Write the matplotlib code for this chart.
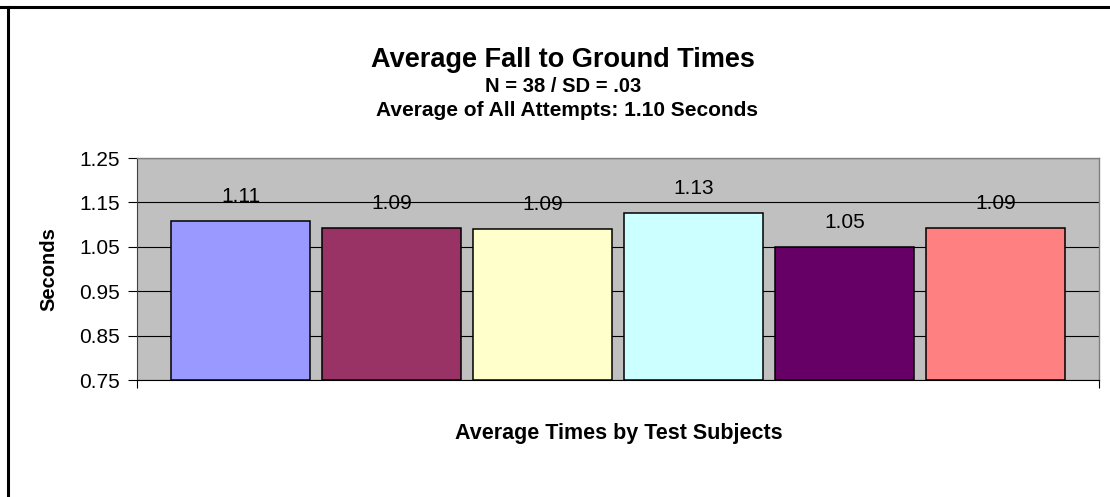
import matplotlib
matplotlib.use("Agg")
import matplotlib.pyplot as plt
from matplotlib.lines import Line2D

plt.rcParams['font.family'] = ['Liberation Sans', 'DejaVu Sans']

# data
subjects = ['S1', 'S2', 'S3', 'S4', 'S5', 'S6']
times = [1.109, 1.092, 1.091, 1.126, 1.050, 1.092]
labels = ['1.11', '1.09', '1.09', '1.13', '1.05', '1.09']
colors = ['#9999FF', '#993366', '#FFFFCC', '#CCFFFF', '#660066', '#FF8080']
yticks = [0.75, 0.85, 0.95, 1.05, 1.15, 1.25]

fig = plt.figure(figsize=(11.1, 4.97), dpi=100)
ax = fig.add_axes([137/1110, 1 - 380/497, (1099 - 137)/1110, (380 - 158)/497])
ax.set_facecolor('#C0C0C0')

x = list(range(len(subjects)))
ax.bar(x, [t - 0.75 for t in times], bottom=0.75, width=0.917,
       color=colors, edgecolor='black', linewidth=1.1, zorder=3)

for xi, t, lab in zip(x, times, labels):
    ax.annotate(lab, (xi, t), xytext=(0, 17.5), textcoords='offset points',
                ha='center', va='center', fontsize=15, zorder=4)

ax.set_xlim(-0.686, 5.686)
ax.set_ylim(0.75, 1.25)
ax.set_yticks(yticks)
ax.set_yticklabels(['%.2f' % v for v in yticks], fontsize=15)
ax.set_xticks([-0.686, 5.686])
ax.set_xticklabels(['', ''])
ax.tick_params(axis='y', direction='out', length=6.5, width=0.8, pad=6)
ax.tick_params(axis='x', direction='out', length=6, width=0.8)
ax.grid(axis='y', color='black', linewidth=0.8, zorder=1)

for s in ['top', 'right']:
    ax.spines[s].set_color('#808080')
    ax.spines[s].set_linewidth(1.0)
ax.spines['left'].set_color('#404040')
ax.spines['bottom'].set_color('black')

ax.set_ylabel('Seconds', fontsize=14.5, fontweight='bold', labelpad=15)

# chart title block is centred on the chart area, axis title on the plot area
fig.text(563/1110, 1 - 60/497, 'Average Fall to Ground Times', ha='center', va='center',
         fontsize=19.5, fontweight='bold')
fig.text(563/1110, 1 - 86/497, 'N = 38 / SD = .03', ha='center', va='center',
         fontsize=14.5, fontweight='bold')
fig.text(567/1110, 1 - 111/497, 'Average of All Attempts: 1.10 Seconds', ha='center', va='center',
         fontsize=15, fontweight='bold')
fig.text(619/1110, 1 - 434/497, 'Average Times by Test Subjects', ha='center', va='center',
         fontsize=15.5, fontweight='bold')

# outer chart border (top and left visible in reference)
fig.add_artist(Line2D([0, 1], [1 - 7/497, 1 - 7/497], color='black', linewidth=2.2, transform=fig.transFigure))
fig.add_artist(Line2D([8/1110, 8/1110], [0, 1 - 7/497], color='black', linewidth=2.2, transform=fig.transFigure))

fig.savefig('out.png', dpi=100)
